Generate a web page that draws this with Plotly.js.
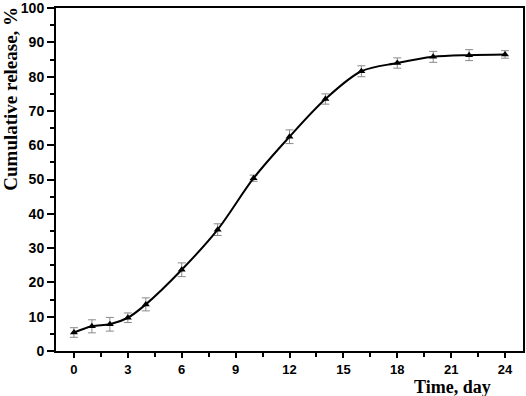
<!DOCTYPE html>
<html>
<head>
<meta charset="utf-8">
<script src="https://cdn.plot.ly/plotly-3.0.1.min.js"></script>
<style>
    html, body { margin:0; padding:0; background:#ffffff; }
    #releaseChart { width:526px; height:396px; }
</style>
</head>
<body>
<div id="releaseChart"></div>
<script>

/* ==========================================
   DATA
========================================== */

const days = [0, 1, 2, 3, 4, 6, 8, 10, 12, 14, 16, 18, 20, 22, 24];

const release = [5.4, 7.2, 7.8, 9.7, 13.6, 23.7, 35.4, 50.4, 62.5, 73.5, 81.6, 84.0, 85.8, 86.3, 86.5];

const releaseError = [1.4, 1.9, 2.0, 1.4, 1.9, 2.0, 1.7, 0.9, 2.0, 1.5, 1.6, 1.5, 1.6, 1.6, 1.1];

const xTickValues = [0, 3, 6, 9, 12, 15, 18, 21, 24];

const yTickValues = [0, 10, 20, 30, 40, 50, 60, 70, 80, 90, 100];


/* ==========================================
   DRAW CHART
========================================== */

function drawRelease(){

    const tickFont = {
        family:"Liberation Sans, Arial, sans-serif",
        size:14,
        weight:"bold",
        color:"#000"
    };

    const titleFont = {
        family:"Liberation Serif, Times New Roman, serif",
        size:19,
        weight:"bold",
        color:"#000"
    };

    Plotly.newPlot(

        "releaseChart",

        [
            {
                x:days,
                y:release,
                mode:"lines+markers",
                line:{
                    color:"#000",
                    width:2,
                    shape:"spline",
                    smoothing:0.9
                },
                marker:{
                    symbol:"triangle-up",
                    size:7,
                    color:"#000"
                },
                error_y:{
                    type:"data",
                    array:releaseError,
                    visible:true,
                    color:"#8a8a8a",
                    thickness:1,
                    width:4
                },
                showlegend:false
            }
        ],

        {
            width:526,
            height:396,
            margin:{ l:56, r:3, t:8, b:45 },
            paper_bgcolor:"#fff",
            plot_bgcolor:"#fff",

            xaxis:{
                range:[-1, 25],
                tickmode:"array",
                tickvals:xTickValues,
                ticks:"outside",
                ticklen:5,
                tickwidth:2,
                tickcolor:"#000",
                minor:{
                    tickmode:"linear",
                    tick0:0,
                    dtick:1.5,
                    ticks:"outside",
                    ticklen:4,
                    tickwidth:2,
                    tickcolor:"#000"
                },
                showline:true,
                linewidth:2,
                linecolor:"#000",
                mirror:true,
                showgrid:false,
                zeroline:false,
                tickfont:{
                    family:"Liberation Sans, Arial, sans-serif",
                    size:13,
                    weight:"bold",
                    color:"#000"
                }
            },

            yaxis:{
                range:[0, 100.05],
                tickmode:"array",
                tickvals:yTickValues,
                ticks:"outside",
                ticklen:7,
                tickwidth:2,
                tickcolor:"#000",
                minor:{
                    tickmode:"linear",
                    tick0:0,
                    dtick:5,
                    ticks:"outside",
                    ticklen:4,
                    tickwidth:2,
                    tickcolor:"#000"
                },
                showline:true,
                linewidth:2,
                linecolor:"#000",
                mirror:true,
                showgrid:false,
                zeroline:false,
                tickfont:tickFont
            },

            annotations:[
                {
                    text:"Time, day",
                    xref:"paper",
                    yref:"paper",
                    x:0.935,
                    y:-0.141,
                    xanchor:"right",
                    yanchor:"bottom",
                    showarrow:false,
                    font:{
                        family:"Liberation Serif, Times New Roman, serif",
                        size:18,
                        weight:"bold",
                        color:"#000"
                    }
                },
                {
                    text:"Cumulative release, %",
                    textangle:-90,
                    xref:"paper",
                    yref:"paper",
                    x:-0.125,
                    y:1.01,
                    xanchor:"left",
                    yanchor:"top",
                    showarrow:false,
                    font:titleFont
                }
            ]
        },

        {
            staticPlot:true
        }

    );

}

drawRelease();

</script>
</body>
</html>
